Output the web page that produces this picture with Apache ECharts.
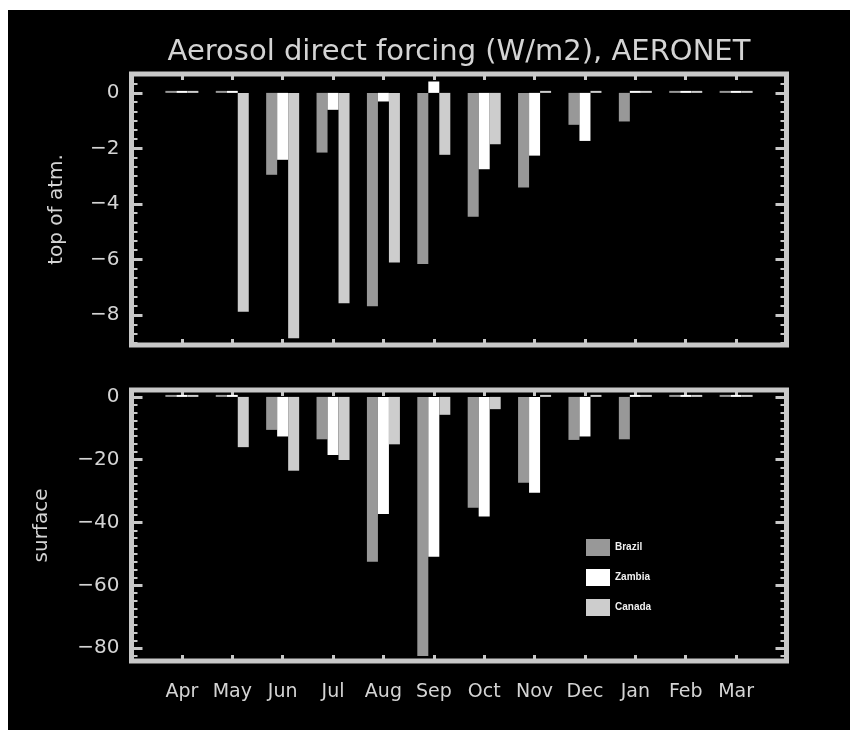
<!DOCTYPE html>
<html><head><meta charset="utf-8">
<script src="https://cdn.jsdelivr.net/npm/echarts@6/dist/echarts.min.js"></script>
<style>
html,body{margin:0;padding:0;background:#fff;width:858px;height:738px;overflow:hidden}
#c{position:absolute;left:8px;top:10px;width:842px;height:720px;}
</style></head>
<body><div id="c"></div>
<script>
// ---- data ----
const titleText = 'Aerosol direct forcing (W/m2), AERONET';
const months = ['Apr','May','Jun','Jul','Aug','Sep','Oct','Nov','Dec','Jan','Feb','Mar'];
const seriesNames = ['Brazil','Zambia','Canada'];
// top of atmosphere (W/m2)
const toaBrazil = [0, 0, -2.95, -2.15, -7.68, -6.16, -4.46, -3.41, -1.15, -1.03, 0, 0];
const toaZambia = [0, 0, -2.41, -0.61, -0.31, 0.41, -2.75, -2.26, -1.73, 0, 0, 0];
const toaCanada = [0, -7.88, -8.84, -7.58, -6.11, -2.23, -1.85, 0, 0, 0, 0, 0];
// surface (W/m2)
const sfcBrazil = [0, 0, -10.5, -13.5, -52.5, -82.5, -35.3, -27.3, -13.7, -13.5, 0, 0];
const sfcZambia = [0, 0, -12.6, -18.5, -37.3, -50.9, -38.1, -30.5, -12.6, 0, 0, 0];
const sfcCanada = [0, -16.0, -23.5, -20.1, -15.1, -5.7, -3.9, 0, 0, 0, 0, 0];
const panelNames = ['top of atm.', 'surface'];
const toaRange = [-9.08, 0.68];
const sfcRange = [-84.1, 2.2];

// ---- styles ----
const FG = '#d4d4d4', FRAME = '#c8c8c8';
const colors = {Brazil:'#989898', Zambia:'#ffffff', Canada:'#cdcdcd'};
const chart = echarts.init(document.getElementById('c'), null, {renderer:'canvas'});

function xAx(gi, pos, labels){
  return {type:'value', gridIndex:gi, position:pos, min:-1, max:12, interval:1,
    axisLine:{show:false, onZero:false}, splitLine:{show:false},
    axisTick:{show:true, inside:true, length:6, lineStyle:{color:FRAME, width:3}},
    axisLabel:{show:labels, color:FG, fontFamily:'DejaVu Sans', fontSize:19, margin:22,
      showMinLabel:false, showMaxLabel:false,
      formatter: v => (months[v] !== undefined ? months[v] : '')}};
}
function fmt(v){ return v === 0 ? '0' : (v < 0 ? '\u2212' + Math.abs(v) : String(v)); }
function yAx(gi, pos, range, minorN, name, gap){
  const left = pos === 'left';
  return {type:'value', gridIndex:gi, position:pos, min:range[0], max:range[1], splitNumber:5,
    name: left ? name : '', nameLocation:'middle', nameRotate:90, nameGap:gap,
    nameTextStyle:{color:FG, fontFamily:'DejaVu Sans', fontSize:20},
    axisLine:{show:false, onZero:false}, splitLine:{show:false},
    axisTick:{show:true, inside:true, length:11, lineStyle:{color:FRAME, width:3}},
    minorTick:{show:true, splitNumber:minorN, length:6, lineStyle:{color:FRAME, width:2}},
    axisLabel:{show:left, color:FG, fontFamily:'DejaVu Sans', fontSize:20, margin:12, align:'right',
      showMinLabel:false, showMaxLabel:false, formatter: fmt}};
}
function bar(name, vals, xi, yi){
  return {type:'bar', name, xAxisIndex:xi, yAxisIndex:yi, barWidth:11, barGap:'0%',
    barMinHeight:2, itemStyle:{color:colors[name]},
    data: vals.map((v,i) => [i, v])};
}

const option = {
  backgroundColor:'#000',
  animation:false,
  title:{text:titleText, left:446, top:23, textAlign:'center',
    textStyle:{color:FG, fontFamily:'DejaVu Sans', fontSize:29, fontWeight:'normal'}},
  legend:{data:seriesNames, orient:'vertical', left:573, top:524, itemWidth:24, itemHeight:17, itemGap:13,
    icon:'rect', textStyle:{color:'#f0f0f0', fontSize:10, fontWeight:'bold', fontFamily:'Liberation Sans'}},
  grid:[
    {left:123.5, top:64, width:655, height:271, show:true, borderColor:FRAME, borderWidth:5, backgroundColor:'transparent'},
    {left:123.5, top:380, width:655, height:271, show:true, borderColor:FRAME, borderWidth:5, backgroundColor:'transparent'}
  ],
  xAxis:[xAx(0,'bottom',false), xAx(0,'top',false), xAx(1,'bottom',true), xAx(1,'top',false)],
  yAxis:[yAx(0,'left',toaRange,6,panelNames[0],65), yAx(0,'right',toaRange,6,'',0),
         yAx(1,'left',sfcRange,8,panelNames[1],80), yAx(1,'right',sfcRange,8,'',0)],
  series:[
    bar('Brazil', toaBrazil, 0, 0), bar('Zambia', toaZambia, 0, 0), bar('Canada', toaCanada, 0, 0),
    bar('Brazil', sfcBrazil, 2, 2), bar('Zambia', sfcZambia, 2, 2), bar('Canada', sfcCanada, 2, 2)
  ]
};
chart.setOption(option);
</script></body></html>
